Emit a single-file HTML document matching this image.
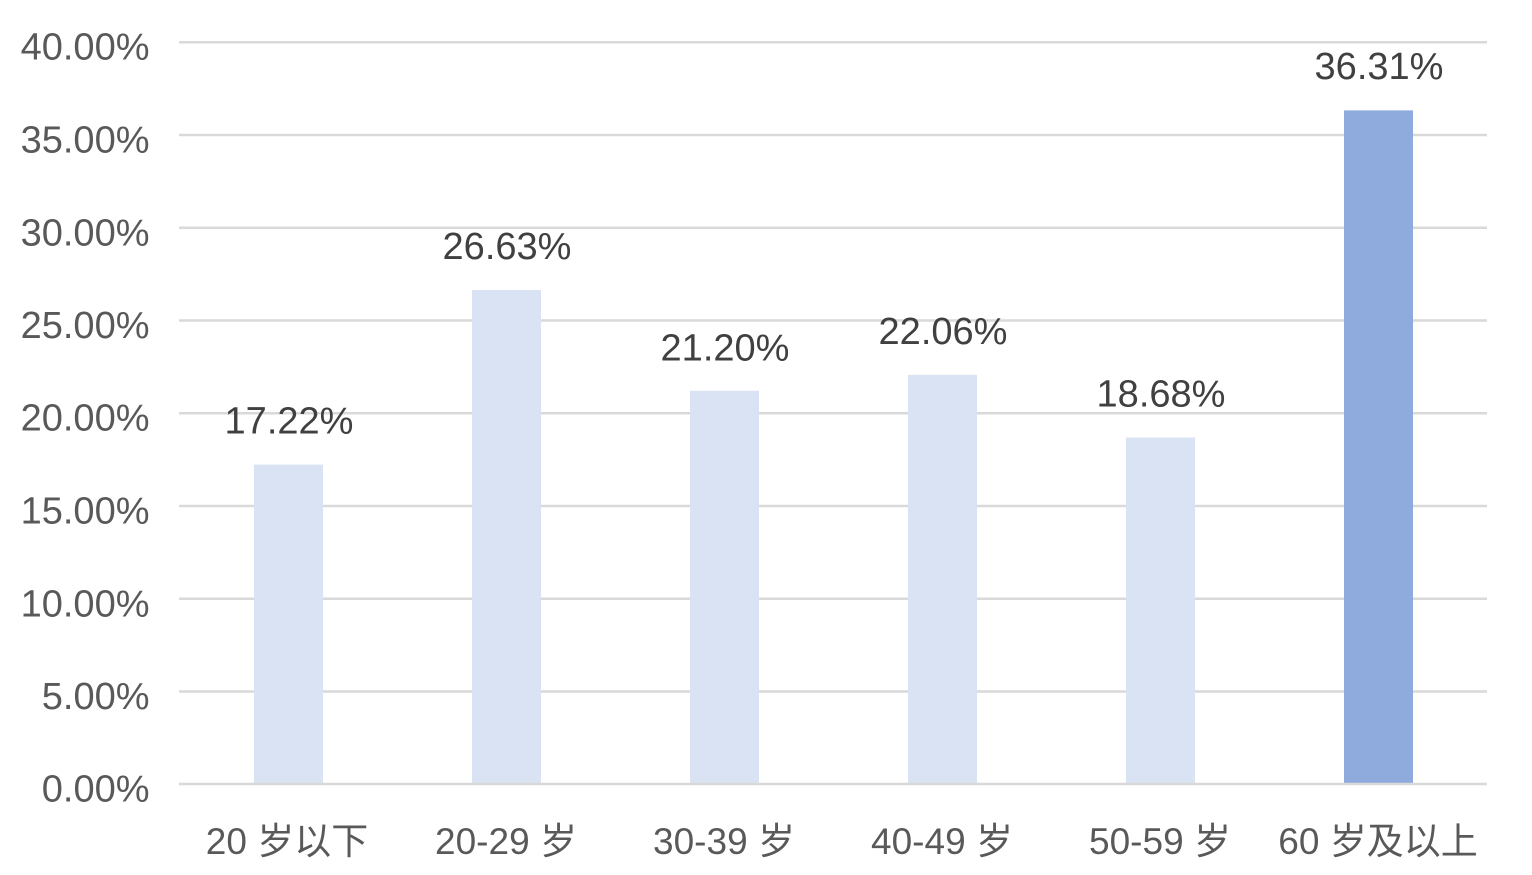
<!DOCTYPE html>
<html>
<head>
<meta charset="utf-8">
<style>
html,body{margin:0;padding:0;background:#fff;}
svg{display:block;}
text{font-family:"Liberation Sans","Noto Sans CJK SC",sans-serif;}
</style>
</head>
<body>
<svg width="1532" height="875" viewBox="0 0 1532 875" xmlns="http://www.w3.org/2000/svg">
<rect width="1532" height="875" fill="#fff"/>
<g stroke="#d9d9d9" stroke-width="2.5">
<line x1="179" x2="1487" y1="42.2" y2="42.2"/>
<line x1="179" x2="1487" y1="134.95" y2="134.95"/>
<line x1="179" x2="1487" y1="227.7" y2="227.7"/>
<line x1="179" x2="1487" y1="320.45" y2="320.45"/>
<line x1="179" x2="1487" y1="413.2" y2="413.2"/>
<line x1="179" x2="1487" y1="505.95" y2="505.95"/>
<line x1="179" x2="1487" y1="598.7" y2="598.7"/>
<line x1="179" x2="1487" y1="691.45" y2="691.45"/>
</g>
<g fill="#dae3f3">
<rect x="254" y="464.6" width="69" height="319.4"/>
<rect x="472" y="290.0" width="69" height="494.0"/>
<rect x="690" y="390.7" width="69" height="393.3"/>
<rect x="908" y="374.8" width="69" height="409.2"/>
<rect x="1126" y="437.5" width="69" height="346.5"/>
</g>
<rect x="1344" y="110.4" width="69" height="673.6" fill="#8faadc"/>
<line x1="179" x2="1487" y1="784" y2="784" stroke="#d9d9d9" stroke-width="2.5"/>
<g fill="#595959" font-size="38" text-anchor="end">
<text x="149.5" y="59.5">40.00%</text>
<text x="149.5" y="152.5">35.00%</text>
<text x="149.5" y="245.5">30.00%</text>
<text x="149.5" y="338">25.00%</text>
<text x="149.5" y="430.5">20.00%</text>
<text x="149.5" y="523.5">15.00%</text>
<text x="149.5" y="616.5">10.00%</text>
<text x="149.5" y="709">5.00%</text>
<text x="149.5" y="801.5">0.00%</text>
</g>
<g fill="#404040" font-size="38" text-anchor="middle">
<text x="289" y="433.5">17.22%</text>
<text x="507" y="259">26.63%</text>
<text x="725" y="360.5">21.20%</text>
<text x="943" y="344">22.06%</text>
<text x="1161" y="406.5">18.68%</text>
<text x="1379" y="79">36.31%</text>
</g>
<g fill="#595959" font-size="37" text-anchor="middle">
<text x="287" y="854">20 岁以下</text>
<text x="506" y="854">20-29 岁</text>
<text x="724" y="854">30-39 岁</text>
<text x="942" y="854">40-49 岁</text>
<text x="1160" y="854">50-59 岁</text>
<text x="1378" y="854">60 岁及以上</text>
</g>
</svg>
</body>
</html>
